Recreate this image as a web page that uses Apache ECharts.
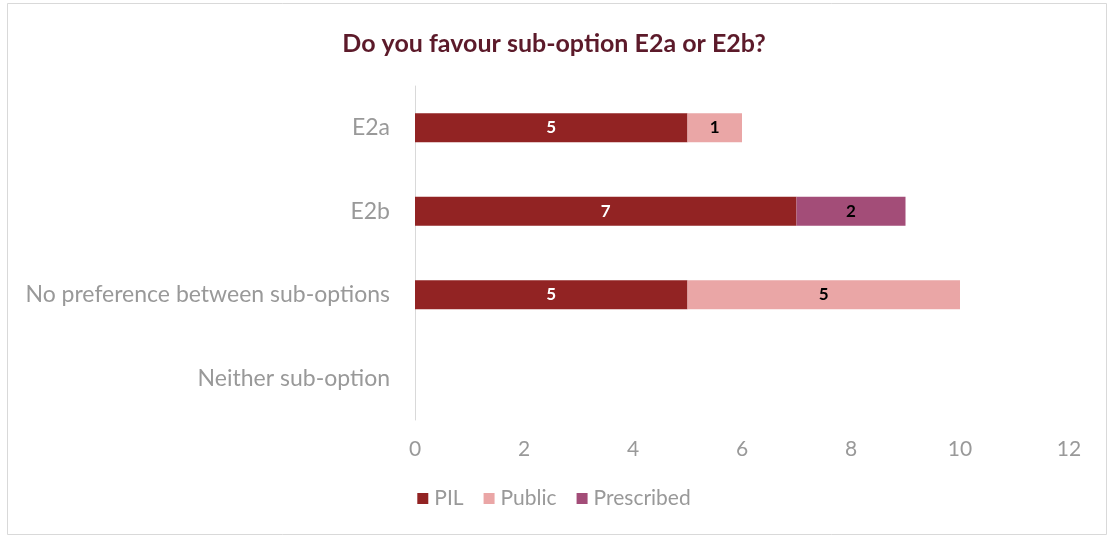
<!DOCTYPE html>
<html><head><meta charset="utf-8">
<script src="https://cdn.jsdelivr.net/npm/echarts@6/dist/echarts.min.js"></script>
<style>html,body{margin:0;padding:0;background:#fff}#c{width:1108px;height:536px}</style>
</head><body><div id="c"></div>
<script>
const categories = ["E2a", "E2b", "No preference between sub-options", "Neither sub-option"];
const seriesNames = ["PIL", "Public", "Prescribed"];
const pilValues = [5, 7, 5, null];
const publicValues = [1, null, 5, null];
const prescribedValues = [null, 2, null, null];
const xTicks = [0, 2, 4, 6, 8, 10, 12];

const colors = ["#922323", "#EAA6A6", "#A34D78"];
const labelColors = ["#ffffff", "#000000", "#000000"];
const dataArr = [pilValues, publicValues, prescribedValues];
const FONT = "Lato, 'Open Sans', sans-serif";
const GREY = '#999999';

const chart = echarts.init(document.getElementById('c'));
chart.setOption({
  animation: false,
  backgroundColor: '#fff',
  graphic: [{type:'rect', shape:{x:7.5,y:3.5,width:1099,height:531}, style:{fill:'none', stroke:'#d9d9d9', lineWidth:1}}],
  title: {
    text: 'Do you favour sub-option E2a or E2b?',
    left: 'center', top: 26,
    textStyle: {fontFamily: FONT, fontWeight: 'bold', fontSize: 25, color: '#5C1A2A'}
  },
  legend: {
    data: seriesNames, bottom: 22, left: 'center',
    itemWidth: 11, itemHeight: 11, itemGap: 20,
    icon: 'rect',
    textStyle: {fontFamily: FONT, fontSize: 21, color: GREY, padding:[0,0,0,1]}
  },
  grid: {left: 415, right: 39, top: 86, bottom: 116, containLabel: false},
  xAxis: {
    type: 'value', min: 0, max: 12, interval: 2,
    axisLine: {show: false}, axisTick: {show: false},
    splitLine: {show: false},
    axisLabel: {fontFamily: FONT, fontSize: 21, color: GREY, margin: 19}
  },
  yAxis: {
    type: 'category', data: categories, inverse: true,
    axisLine: {show: true, lineStyle: {color: '#d9d9d9', width: 1}},
    axisTick: {show: false},
    axisLabel: {fontFamily: FONT, fontSize: 23, color: GREY, margin: 25}
  },
  series: seriesNames.map((n, i) => ({
    name: n, type: 'bar', stack: 'total', data: dataArr[i],
    barWidth: 29,
    itemStyle: {color: colors[i]},
    label: {show: true, position: 'inside', fontFamily: FONT, fontWeight: 'bold', fontSize: 17, color: labelColors[i]}
  }))
});
</script></body></html>
